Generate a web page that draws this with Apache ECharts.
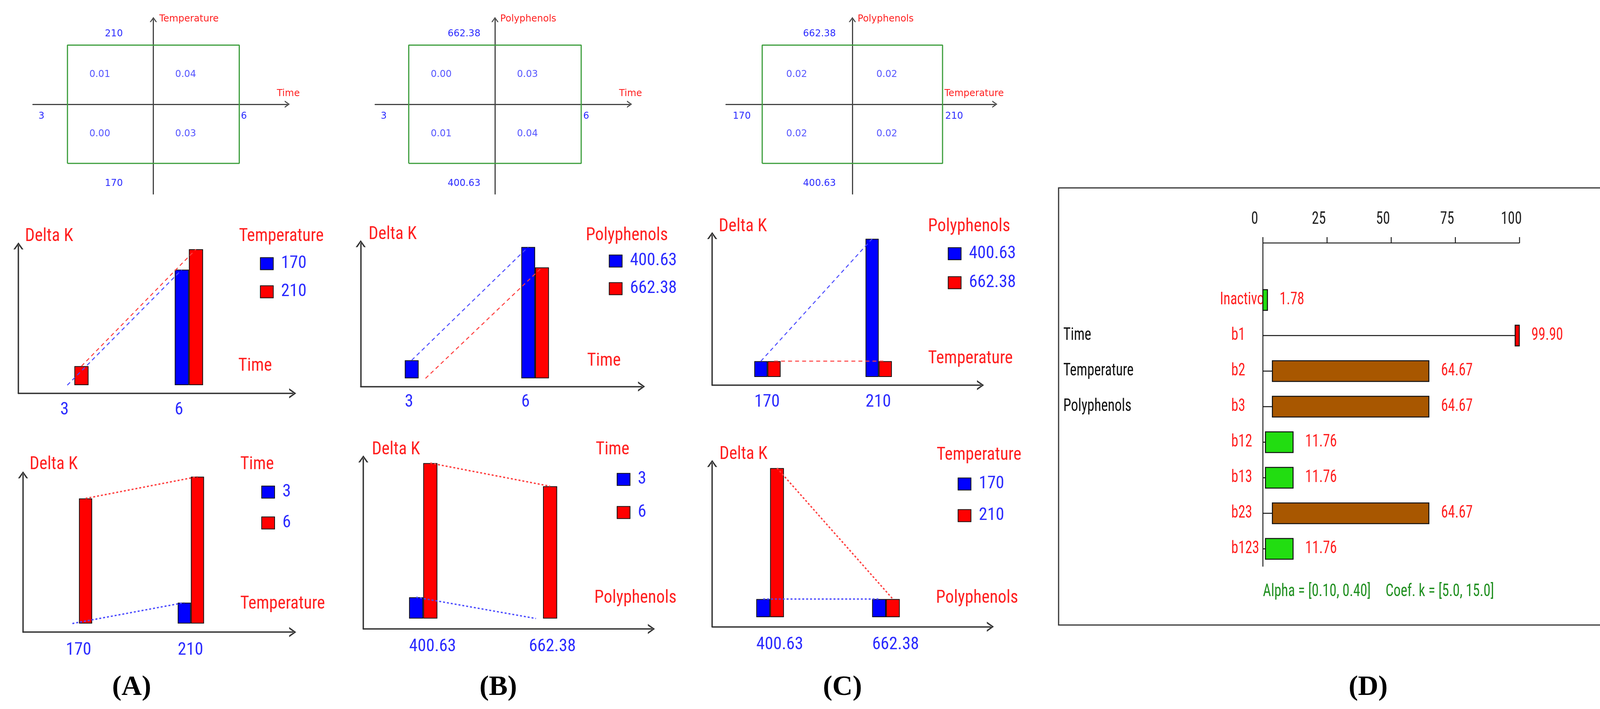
<!DOCTYPE html>
<html><head><meta charset="utf-8">
<script src="https://cdn.jsdelivr.net/npm/echarts@6/dist/echarts.min.js"></script>
<style>html,body{margin:0;padding:0;background:#fff}#c{width:4313px;height:1815px}</style>
</head><body><div id="c"></div>
<script>
// ================= DATA =================
// Top row: interaction squares, values in quadrants [x-/y+, x+/y+, x-/y-, x+/y-]
const sqA_x = ['3', '6'], sqA_y = ['170', '210'], sqA_names = ['Time', 'Temperature'];
const sqA_vals = [0.01, 0.04, 0.00, 0.03];
const sqB_x = ['3', '6'], sqB_y = ['400.63', '662.38'], sqB_names = ['Time', 'Polyphenols'];
const sqB_vals = [0.00, 0.03, 0.01, 0.04];
const sqC_x = ['170', '210'], sqC_y = ['400.63', '662.38'], sqC_names = ['Temperature', 'Polyphenols'];
const sqC_vals = [0.02, 0.02, 0.02, 0.02];
const quadX = [-1, 1, -1, 1], quadY = [1, 1, -1, -1];

// Interaction plots (Delta K)
const pA1_cats = ['3', '6'], pA1_names = ['170', '210'];
const pA1_blue = [0.00, 2.55], pA1_red = [0.42, 3.00];
const pB1_cats = ['3', '6'], pB1_names = ['400.63', '662.38'];
const pB1_blue = [0.40, 2.90], pB1_red = [0.00, 2.45];
const pC1_cats = ['170', '210'], pC1_names = ['400.63', '662.38'];
const pC1_blue = [0.35, 3.05], pC1_red = [0.35, 0.35];
const pA2_cats = ['170', '210'], pA2_names = ['3', '6'];
const pA2_blue = [0.00, 0.46], pA2_red = [2.76, 3.24];
const pB2_cats = ['400.63', '662.38'], pB2_names = ['3', '6'];
const pB2_blue = [0.47, 0.00], pB2_red = [3.43, 2.92];
const pC2_cats = ['400.63', '662.38'], pC2_names = ['170', '210'];
const pC2_blue = [0.40, 0.40], pC2_red = [3.29, 0.40];

// Panel D: effects
const dCodes = ['Inactivo', 'b1', 'b2', 'b3', 'b12', 'b13', 'b23', 'b123'];
const dFactors = ['', 'Time', 'Temperature', 'Polyphenols', '', '', '', ''];
const dEffect = [1.78, 99.90, 64.67, 64.67, 11.76, 11.76, 64.67, 11.76];
const dStart = [0, 98.3, 3.7, 3.7, 1.0, 1.0, 3.7, 1.0];
const dTicks = [0, 25, 50, 75, 100];
const dAlpha = 'Alpha = [0.10, 0.40]';
const dCoef = 'Coef. k = [5.0, 15.0]';
const panelLetters = ['(A)', '(B)', '(C)', '(D)'];

// ================= FONT (narrow) =================
const mctx = document.createElement('canvas').getContext('2d');
function tw(font, s) { mctx.font = font; return mctx.measureText(s || 'Temperature Delta K 400.63 Polyphenols').width; }
const monoW = tw('46px monospace');
let NF = 'Liberation Sans';
for (const f of ['Liberation Sans Narrow', 'Roboto Condensed', 'DejaVu Sans Condensed', 'Noto Sans Condensed']) {
  if (Math.abs(tw("46px '" + f + "', monospace") - monoW) > 0.5) { NF = f; break; }
}
const NARROW = "'" + NF + "', 'Liberation Sans', sans-serif";
const KM = 217 / tw('46px ' + NARROW, 'Temperature');
const DFS = 44;
const KD = 180 / tw(DFS + 'px ' + NARROW, 'Temperature');
const LBL = Math.round(46 * Math.min(1, KM));

// ================= LAYOUT =================
const SX = 1.685, SY = 1.16;
const X = z => z * SX, Y = z => z * SY;
const WIDE = "'DejaVu Sans', Verdana, sans-serif";
const BLUE_T = '#2b2bff', RED_T = '#ff1f1f';
const CHEV = 'path://M0 14 L10 0 L20 14 L16.5 14 L10 4.5 L3.5 14 Z';

const grids = [], xAxes = [], yAxes = [], series = [], legends = [], gfx = [];
function addGrid(r) { grids.push(Object.assign({ containLabel: false, outerBoundsMode: 'none' }, r)); return grids.length - 1; }
function text(x, y, t, o, sx) {
  gfx.push({ type: 'text', x: x, y: y, z: 50, silent: true, scaleX: sx == null ? KM : sx,
    style: Object.assign({ text: t, fill: RED_T, fontSize: 46, fontFamily: NARROW, align: 'left', verticalAlign: 'middle' }, o || {}) });
}
const noParts = { axisTick: { show: false }, axisLabel: { show: false }, splitLine: { show: false } };

function addSquare(vals, xl, yl, names, L) {
  const cx = X(L.ax), cy = Y(230), hx = X(L.hx), hy = Y(130.5);
  const left = X(L.hl), right = X(L.hr) - 6, top = Y(38) + 6, bottom = Y(428);
  const g = addGrid({ left: left, top: top, width: right - left, height: bottom - top });
  const line = { show: true, onZero: true, symbol: ['none', CHEV], symbolSize: [20, 13], lineStyle: { color: '#444', width: 3 } };
  xAxes.push(Object.assign({ gridIndex: g, type: 'value', min: (left - cx) / hx, max: (right - cx) / hx, axisLine: line }, noParts));
  yAxes.push(Object.assign({ gridIndex: g, type: 'value', min: (cy - bottom) / hy, max: (cy - top) / hy, axisLine: line }, noParts));
  series.push({ type: 'line', xAxisIndex: g, yAxisIndex: g, silent: true, z: 1, symbol: 'none',
    data: [[-1, -1], [1, -1], [1, 1], [-1, 1], [-1, -1]], lineStyle: { color: '#3d9e3d', width: 3 } });
  series.push({ type: 'scatter', xAxisIndex: g, yAxisIndex: g, silent: true, symbolSize: 1, itemStyle: { color: 'rgba(0,0,0,0)' },
    data: vals.map((v, i) => [quadX[i] * 0.5, quadY[i] * 0.5]),
    label: { show: true, position: 'left', distance: 0, formatter: p => vals[p.dataIndex].toFixed(2), color: BLUE_T, fontSize: 24, fontFamily: WIDE } });
  const small = { fontSize: 24, fontFamily: WIDE };
  text(X(L.yn), Y(42), names[1], small, 1);
  text(X(L.xn), Y(207), names[0], Object.assign({ align: 'center' }, small), 1);
  const blueSmall = Object.assign({ fill: BLUE_T }, small);
  text(X(L.yc), Y(75), yl[1], Object.assign({ align: 'center' }, blueSmall), 1);
  text(X(L.yc), Y(405), yl[0], Object.assign({ align: 'center' }, blueSmall), 1);
  text(X(L.xl), Y(257), xl[0], Object.assign({ align: 'center' }, blueSmall), 1);
  text(X(L.xr), Y(257), xl[1], blueSmall, 1);
}

function addPlot(cats, names, blue, red, title, factor, L, dash) {
  const axX = X(L.ax), axY = Y(L.ay), topY = Y(L.atop), rightX = X(L.ar);
  const f = addGrid({ left: axX, top: topY + 9, width: rightX - axX - 9, height: axY - topY - 9 });
  const frameLine = { show: true, onZero: false, symbol: ['none', CHEV], symbolSize: [26, 18], lineStyle: { color: '#333', width: 3.5 } };
  xAxes.push(Object.assign({ gridIndex: f, type: 'value', min: 0, max: 1, axisLine: frameLine }, noParts));
  yAxes.push(Object.assign({ gridIndex: f, type: 'value', min: 0, max: 1, axisLine: frameLine }, noParts));
  const baseY = Y(L.base), band = X(L.sp), bw = X(L.bw), gLeft = X(L.p1) - band / 2;
  const yMax = (baseY - topY) / Y(100);
  const mk = (shift, labelAxis) => {
    const g = addGrid({ left: gLeft + shift, top: topY, width: 2 * band, height: baseY - topY });
    if (labelAxis) {
      xAxes.push({ gridIndex: g, type: 'category', data: cats, axisLine: { show: false }, axisTick: { show: false }, splitLine: { show: false },
        axisLabel: { show: true, interval: 0, align: 'left', margin: Y(L.ty) - baseY - LBL / 2, color: BLUE_T, fontSize: LBL, fontFamily: NARROW } });
    } else {
      xAxes.push({ gridIndex: g, type: 'category', data: cats, show: false });
    }
    yAxes.push({ gridIndex: g, type: 'value', min: 0, max: yMax, show: false });
    return g;
  };
  const gb = mk(0), glb = mk(-bw / 2), glr = mk(bw / 2);
  mk(-bw, true);
  const barBase = { type: 'bar', xAxisIndex: gb, yAxisIndex: gb, barWidth: bw, barGap: '0%', silent: true };
  series.push(Object.assign({ name: names[0], data: blue.map(v => v === 0 ? null : v), itemStyle: { color: '#0000ff', borderColor: '#111', borderWidth: 2 } }, barBase));
  series.push(Object.assign({ name: names[1], data: red.map(v => v === 0 ? null : v), itemStyle: { color: '#ff0000', borderColor: '#111', borderWidth: 2 } }, barBase));
  series.push({ name: names[0] + ' trend', type: 'line', xAxisIndex: glb, yAxisIndex: glb, data: blue, symbol: 'none', silent: true, z: 4,
    lineStyle: { color: '#4a4aff', width: dash.w, type: dash.t } });
  series.push({ name: names[1] + ' trend', type: 'line', xAxisIndex: glr, yAxisIndex: glr, data: red, symbol: 'none', silent: true, z: 4,
    lineStyle: { color: '#ff3c3c', width: dash.w, type: dash.t } });
  legends.push({ orient: 'vertical', left: X(L.sqx), top: Y(L.sq1) - LBL / 2, itemGap: Y(L.sq2) - Y(L.sq1) - LBL,
    itemWidth: 33, itemHeight: 31, icon: 'rect', padding: 0, selectedMode: false, data: names,
    textStyle: { color: BLUE_T, fontSize: LBL, fontFamily: NARROW, padding: [0, 0, 0, 15] },
    itemStyle: { borderColor: '#111', borderWidth: 2 } });
  text(X(L.dk[0]), Y(L.dk[1]), 'Delta K');
  text(X(L.lt[0]), Y(L.lt[1]), title);
  text(X(L.fl[0]), Y(L.fl[1]), factor);
}

// ---- top squares
addSquare(sqA_vals, sqA_x, sqA_y, sqA_names, { ax: 233, hx: 130.5, hl: 50, hr: 440, yn: 242, yc: 173, xl: 63, xr: 366, xn: 438 });
addSquare(sqB_vals, sqB_x, sqB_y, sqB_names, { ax: 752, hx: 131, hl: 570, hr: 960, yn: 760, yc: 705, xl: 583, xr: 886, xn: 958 });
addSquare(sqC_vals, sqC_x, sqC_y, sqC_names, { ax: 1295, hx: 137, hl: 1103, hr: 1515, yn: 1303, yc: 1245, xl: 1127, xr: 1436, xn: 1480 });

// ---- interaction plots
const dashMid = { w: 2.5, t: [10, 8] }, dashBot = { w: 3.5, t: [5, 5] };
addPlot(pA1_cats, pA1_names, pA1_blue, pA1_red, 'Temperature', 'Time',
  { ax: 28, atop: 535, ay: 868, ar: 450, base: 850, p1: 113, sp: 174, bw: 21.5, dk: [38, 522], lt: [363, 522], fl: [362, 808], sqx: 395, sq1: 582, sq2: 644, ty: 905 }, dashMid);
addPlot(pB1_cats, pB1_names, pB1_blue, pB1_red, 'Polyphenols', 'Time',
  { ax: 548, atop: 530, ay: 853, ar: 980, base: 835, p1: 636, sp: 177, bw: 21, dk: [560, 518], lt: [890, 520], fl: [892, 797], sqx: 925, sq1: 576, sq2: 637, ty: 888 }, dashMid);
addPlot(pC1_cats, pC1_names, pC1_blue, pC1_red, 'Polyphenols', 'Temperature',
  { ax: 1082, atop: 512, ay: 850, ar: 1495, base: 832, p1: 1166, sp: 169, bw: 20, dk: [1092, 500], lt: [1410, 500], fl: [1410, 792], sqx: 1440, sq1: 560, sq2: 624, ty: 888 }, dashMid);
addPlot(pA2_cats, pA2_names, pA2_blue, pA2_red, 'Time', 'Temperature',
  { ax: 35, atop: 1040, ay: 1395, ar: 450, base: 1376, p1: 120, sp: 170, bw: 20, dk: [45, 1025], lt: [365, 1025], fl: [365, 1333], sqx: 397, sq1: 1086, sq2: 1154, ty: 1435 }, dashBot);
addPlot(pB2_cats, pB2_names, pB2_blue, pB2_red, 'Time', 'Polyphenols',
  { ax: 552, atop: 1005, ay: 1388, ar: 995, base: 1365, p1: 643, sp: 182, bw: 21.5, dk: [565, 993], lt: [905, 993], fl: [903, 1320], sqx: 937, sq1: 1058, sq2: 1131, ty: 1428 }, dashBot);
addPlot(pC2_cats, pC2_names, pC2_blue, pC2_red, 'Temperature', 'Polyphenols',
  { ax: 1082, atop: 1015, ay: 1383, ar: 1510, base: 1362, p1: 1170, sp: 176, bw: 21, dk: [1093, 1003], lt: [1423, 1005], fl: [1422, 1320], sqx: 1455, sq1: 1068, sq2: 1138, ty: 1423 }, dashBot);

// ---- panel D
const D_BOXL = 2710, D_BOXT = 481, D_BOXR = 4295, D_BOXB = 1600;
const D_L = 3233, D_R = 3890, D_AX = 622, D_HEAD = 562, D_ROW0 = 768, D_ROWH = 91;
const D_GT = D_ROW0 - D_ROWH / 2, D_BOT = D_GT + D_ROWH * dCodes.length;
gfx.push({ type: 'rect', z: 0, silent: true, shape: { x: D_BOXL, y: D_BOXT, width: D_BOXR - D_BOXL, height: D_BOXB - D_BOXT },
  style: { fill: 'none', stroke: '#333', lineWidth: 3 } });
const dTStyle = (t, fill, align) => ({ text: t, fill: fill, fontSize: DFS, fontFamily: NARROW, align: align || 'left', verticalAlign: 'middle' });
// bars grid (rows = categories); the scale frame is drawn from the same coordinate system
const dB = addGrid({ left: D_L, top: D_GT, width: D_R - D_L, height: D_BOT - D_GT });
xAxes.push({ gridIndex: dB, type: 'value', min: dTicks[0], max: dTicks[dTicks.length - 1], show: false });
yAxes.push({ gridIndex: dB, type: 'category', inverse: true, data: dCodes, show: false });
const AX_STYLE = { stroke: '#222', lineWidth: 2.5 };
series.push({ type: 'custom', xAxisIndex: dB, yAxisIndex: dB, silent: true, z: 4,
  data: dTicks.map((t, i) => [t, 0, i]), encode: { x: 0, y: 1 },
  renderItem: function (params, api) {
    const t = api.value(0), i = api.value(2);
    const p = api.coord([t, 0]);
    const yTop = p[1] - api.size([0, 1])[1] / 2 - (D_GT - D_AX);
    const ch = [];
    ch.push({ type: 'line', shape: { x1: p[0], y1: yTop, x2: p[0], y2: yTop - 15 }, style: AX_STYLE });
    ch.push({ type: 'text', x: p[0] - 21, y: yTop - (D_AX - D_HEAD), scaleX: KD, style: dTStyle(String(t), '#222', 'center') });
    if (i === 0) {
      const pEnd = api.coord([dTicks[dTicks.length - 1], 0]);
      const pLast = api.coord([0, dCodes.length - 1]);
      const yBot = pLast[1] + api.size([0, 1])[1] / 2;
      ch.push({ type: 'line', shape: { x1: p[0], y1: yTop, x2: pEnd[0], y2: yTop }, style: AX_STYLE });
      ch.push({ type: 'line', shape: { x1: p[0], y1: yTop, x2: p[0], y2: yBot }, style: AX_STYLE });
    }
    return { type: 'group', children: ch };
  } });
const effectColor = v => v >= 90 ? '#ff0000' : (v >= 30 ? '#a85700' : '#22dd11');
series.push({ type: 'custom', xAxisIndex: dB, yAxisIndex: dB, silent: true, z: 5,
  data: dCodes.map((c, i) => [dStart[i], dEffect[i], i]),
  encode: { x: [0, 1], y: 2 },
  renderItem: function (params, api) {
    const s = api.value(0), e = api.value(1), r = api.value(2);
    const p0 = api.coord([0, r]), ps = api.coord([s, r]), pe = api.coord([e, r]);
    const h = api.size([0, 1])[1] * 0.58;
    const ch = [];
    ch.push({ type: 'text', x: p0[0] - (r === 0 ? 110 : 81), y: p0[1], scaleX: KD, z2: 1, style: dTStyle(dCodes[r], RED_T) });
    if (dFactors[r]) ch.push({ type: 'text', x: D_BOXL + 12, y: p0[1], scaleX: KD, style: dTStyle(dFactors[r], '#111') });
    if (ps[0] - p0[0] > 0.5) ch.push({ type: 'line', shape: { x1: p0[0], y1: p0[1], x2: ps[0], y2: ps[1] }, style: { stroke: '#111', lineWidth: 2.5 } });
    ch.push({ type: 'rect', z2: 5, shape: { x: ps[0], y: ps[1] - h / 2, width: pe[0] - ps[0], height: h }, style: { fill: effectColor(e), stroke: '#111', lineWidth: 2.5 } });
    ch.push({ type: 'text', x: pe[0] + 31, y: pe[1], scaleX: KD, style: dTStyle(e.toFixed(2), RED_T) });
    return { type: 'group', children: ch };
  } });
text(D_L, 1515, dAlpha, { fill: '#1f8f1f', fontSize: DFS }, KD);
text(3547, 1515, dCoef, { fill: '#1f8f1f', fontSize: DFS }, KD);

// ---- panel letters
const LET = { fill: '#000', fontSize: 72, fontWeight: 'bold', fontFamily: "'Liberation Serif', 'Times New Roman', serif", align: 'center' };
text(X(200), Y(1518), panelLetters[0], LET, 1);
text(X(757), Y(1518), panelLetters[1], LET, 1);
text(X(1280), Y(1518), panelLetters[2], LET, 1);
text((D_BOXL + D_BOXR) / 2, Y(1518), panelLetters[3], LET, 1);

const chart = echarts.init(document.getElementById('c'), null, { renderer: 'canvas' });
chart.setOption({
  backgroundColor: '#fff', animation: false,
  grid: grids, xAxis: xAxes, yAxis: yAxes, series: series, legend: legends, graphic: gfx
});
</script></body></html>
